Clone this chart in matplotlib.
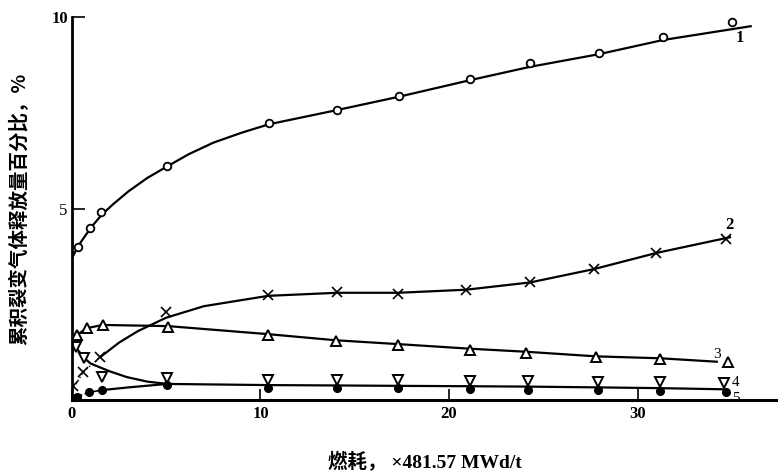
import matplotlib
matplotlib.use("Agg")
import matplotlib.pyplot as plt

plt.rcParams["font.family"] = ["Liberation Serif", "Noto Sans CJK SC"]

# measured points (burnup, x481.57 MWd/t ; release %)
x1 = [0.3, 0.95, 1.55, 5.05, 10.45, 14.05, 17.35, 21.1, 24.3, 27.95, 31.35, 35.0]
y1 = [4.0, 4.5, 4.9, 6.12, 7.23, 7.57, 7.94, 8.38, 8.8, 9.06, 9.48, 9.87]
x2 = [0.07, 0.6, 1.5, 5.0, 10.4, 14.05, 17.3, 20.9, 24.3, 27.7, 31.0, 34.7]
y2 = [0.37, 0.73, 1.12, 2.3, 2.74, 2.82, 2.77, 2.87, 3.08, 3.42, 3.84, 4.2]
x3 = [0.27, 0.8, 1.65, 5.1, 10.4, 14.0, 17.3, 21.1, 24.1, 27.8, 31.2, 34.8]
y3 = [1.7, 1.88, 1.96, 1.91, 1.70, 1.54, 1.44, 1.31, 1.23, 1.12, 1.07, 1.0]
x4 = [0.2, 0.64, 1.6, 5.05, 10.4, 14.05, 17.3, 21.1, 24.2, 27.9, 31.2, 34.6]
y4 = [1.38, 1.1, 0.6, 0.57, 0.52, 0.52, 0.52, 0.5, 0.5, 0.48, 0.47, 0.45]
x5 = [0.25, 0.9, 1.6, 5.05, 10.4, 14.05, 17.3, 21.1, 24.2, 27.9, 31.2, 34.7]
y5 = [0.08, 0.2, 0.26, 0.39, 0.31, 0.31, 0.31, 0.28, 0.27, 0.25, 0.24, 0.2]

# hand drawn curves
c1x = [0, 0.3, 1.0, 1.6, 2.2, 3.0, 4.0, 5.05, 6.2, 7.5, 9.0, 10.45, 14.05, 17.35, 21.1, 24.3, 27.95, 31.35, 36.0]
c1y = [3.7, 4.0, 4.5, 4.85, 5.12, 5.45, 5.8, 6.1, 6.42, 6.72, 6.98, 7.2, 7.57, 7.92, 8.35, 8.7, 9.03, 9.4, 9.76]
c2dx = [0, 0.6, 1.5]
c2dy = [0.25, 0.73, 1.12]
c2x = [1.5, 2.5, 3.5, 5.0, 7.0, 10.4, 14.05, 17.3, 20.9, 24.3, 27.7, 31.0, 34.9]
c2y = [1.12, 1.5, 1.8, 2.15, 2.45, 2.72, 2.8, 2.8, 2.88, 3.07, 3.42, 3.84, 4.25]
c3x = [0, 0.27, 0.8, 1.65, 5.1, 10.4, 14.0, 17.3, 21.1, 24.1, 27.8, 31.2, 34.2]
c3y = [1.57, 1.7, 1.88, 1.96, 1.93, 1.72, 1.56, 1.46, 1.34, 1.26, 1.14, 1.09, 1.0]
c4x = [0, 0.2, 0.64, 1.0, 2.0, 2.9, 4.0, 5.05, 10.4, 14.05, 17.3, 21.1, 24.2, 27.9, 31.2, 34.6]
c4y = [1.5, 1.38, 1.1, 0.95, 0.75, 0.6, 0.48, 0.42, 0.39, 0.38, 0.37, 0.36, 0.35, 0.33, 0.31, 0.28]
c5dx = [0, 0.9, 1.6]
c5dy = [0.05, 0.2, 0.26]
c5x = [1.6, 3.0, 5.05]
c5y = [0.26, 0.33, 0.42]

xticks = [0, 10, 20, 30]
yticks = [5, 10]

fig = plt.figure(figsize=(7.78, 4.72), dpi=100)
ax = fig.add_axes([0.0925, 0.1525, 0.9075, 0.8114])

lw = 1.6
ax.plot(c1x, c1y, color="black", lw=lw)
ax.plot(c2dx, c2dy, color="black", lw=1.0, ls=":")
ax.plot(c2x, c2y, color="black", lw=lw)
ax.plot(c3x, c3y, color="black", lw=lw)
ax.plot(c4x, c4y, color="black", lw=lw)
ax.plot(c5dx, c5dy, color="black", lw=1.2, ls="-.")
ax.plot(c5x, c5y, color="black", lw=lw)

ax.plot(x1, y1, "o", ms=5.5, mfc="white", mec="black", mew=1.3, ls="none")
ax.plot(x2, y2, "x", ms=7, mec="black", mew=1.2, ls="none")
ax.plot(x3, y3, "^", ms=7.5, mfc="white", mec="black", mew=1.4, ls="none")
ax.plot(x4, y4, "v", ms=7.5, mfc="white", mec="black", mew=1.4, ls="none")
ax.plot(x5, y5, "o", ms=5.5, mfc="black", mec="black", ls="none")

ax.text(35.4, 9.45, "1", fontsize=12, fontweight="bold", ha="center", va="center")
ax.text(34.85, 4.57, "2", fontsize=12, fontweight="bold", ha="center", va="center")
ax.text(34.2, 1.2, "3", fontsize=11, ha="center", va="center")
ax.text(35.2, 0.46, "4", fontsize=11, ha="center", va="center")
ax.text(35.2, 0.05, "5", fontsize=11, ha="center", va="center")

ax.set_xlim(0, 37.45)
ax.set_ylim(0, 10)
for s in ["top", "right"]:
    ax.spines[s].set_visible(False)
ax.spines["left"].set_linewidth(2)
ax.spines["bottom"].set_linewidth(2.2)

ax.set_xticks(xticks)
ax.set_xticklabels(["0", "10", "20", "30"], fontsize=12, fontweight="bold")
ax.set_yticks(yticks)
ax.set_yticklabels(["5", "10"], fontsize=12)
ax.get_yticklabels()[1].set_fontweight("bold")
ax.tick_params(axis="x", direction="in", length=8, width=1.2, pad=4)
ax.tick_params(axis="y", direction="in", length=9, width=1.2, pad=3)

ax.set_xlabel("燃耗， ×481.57 MWd/t", fontsize=14, fontweight="bold", labelpad=22)
ax.set_ylabel("累积裂变气体释放量百分比，%", fontsize=14, fontweight="bold",
              family=["Noto Sans CJK SC", "Liberation Serif"], labelpad=16)

fig.savefig("out.png", dpi=100)
